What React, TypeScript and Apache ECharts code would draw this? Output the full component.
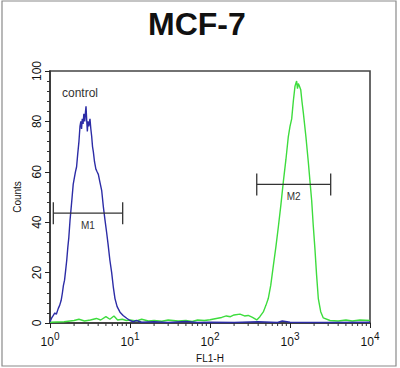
import React, { useEffect, useRef } from "react";
import * as echarts from "echarts";

const titleText = "MCF-7";
const xAxisName = "FL1-H";
const yAxisName = "Counts";
const controlLabel = "control";

// control histogram (blue): [FL1-H, counts]
const controlSeries: [number, number][] = [
  [1.0, 0.5], [1.05, 2], [1.1, 3], [1.15, 4], [1.2, 3.5], [1.27, 5.8], [1.32, 7], [1.38, 9],
  [1.43, 12], [1.47, 14.8], [1.52, 17], [1.57, 21], [1.62, 25], [1.67, 30], [1.72, 34],
  [1.78, 40.8], [1.83, 45], [1.89, 50], [1.95, 55], [2.0, 57], [2.08, 60], [2.15, 62],
  [2.22, 67], [2.3, 72], [2.37, 78], [2.43, 80], [2.48, 77], [2.53, 81], [2.59, 79],
  [2.65, 83], [2.72, 80], [2.78, 84], [2.82, 86], [2.87, 81], [2.93, 76], [2.98, 80],
  [3.05, 78], [3.16, 81], [3.24, 77], [3.32, 74], [3.4, 70], [3.48, 68], [3.6, 64],
  [3.75, 61], [3.88, 60], [4.02, 59], [4.2, 56], [4.43, 52.5], [4.65, 46], [4.87, 40.8],
  [5.1, 36], [5.31, 31.5], [5.6, 25], [5.9, 20], [6.2, 14], [6.49, 9.7], [6.9, 6.5],
  [7.5, 4.3], [8.2, 3], [9.1, 1.9], [10, 1], [11, 0.5], [12, 1], [14, 0.3], [20, 0.5],
  [30, 0.2], [50, 0.6], [70, 0.2], [100, 0.3], [200, 0.2], [400, 0.5], [700, 0.2],
  [800, 0.8], [1000, 0.3], [3000, 0.2], [10000, 0.3],
];

// MCF-7 histogram (green): [FL1-H, counts]
const sampleSeries: [number, number][] = [
  [1.0, 0.3], [1.5, 0.5], [2, 1], [2.3, 1.5], [2.7, 0.8], [3.2, 1.2], [3.8, 1.8], [4.3, 1.2],
  [5, 2.5], [5.6, 1.5], [6.3, 2.8], [7, 1.2], [8, 1.5], [9, 1], [10, 1.2], [12, 0.8],
  [14, 1.5], [17, 0.8], [20, 1], [25, 0.7], [30, 1.2], [40, 0.8], [50, 1], [60, 0.6],
  [70, 1.2], [85, 1], [100, 1.3], [120, 1.8], [140, 2.2], [160, 2.8], [180, 2.5], [200, 3.2],
  [237, 3.5], [270, 2.8], [300, 3], [340, 2.2], [384, 1.2], [420, 2.5], [464, 4.4], [500, 7],
  [535, 9.7], [575, 15], [618, 22.6], [665, 30], [714, 38], [770, 47], [825, 56], [890, 65],
  [953, 74], [1000, 78], [1050, 81], [1100, 88], [1155, 94], [1210, 96], [1240, 93],
  [1270, 95], [1310, 94], [1362, 92.6], [1410, 88], [1466, 83.6], [1580, 74], [1693, 64],
  [1780, 56], [1866, 48.6], [1950, 39], [2054, 29], [2150, 19], [2259, 9.7], [2420, 4.5],
  [2608, 2], [3162, 1], [4000, 0.8], [5000, 1.2], [6000, 0.8], [7500, 1.2], [10000, 1],
];

// gate markers: [from, to, level, name]
const gateMarkers: [number, number, number, string][] = [
  [1.1, 8.1, 43.6, "M1"],
  [384, 3226, 55, "M2"],
];

const xMin = 1;
const xMax = 10000;
const yMin = 0;
const yMax = 100;
const yInterval = 20;

const minorTickValues: number[] = [];
for (let d = 0; d < 4; d++) {
  for (let k = 2; k <= 9; k++) minorTickValues.push(k * Math.pow(10, d));
}

export default function App() {
  const ref = useRef<HTMLDivElement>(null);
  useEffect(() => {
    if (!ref.current) return;
    const chart = echarts.init(ref.current, null, { renderer: "svg" });
    const font = "'Liberation Sans', Arial, sans-serif";
    chart.setOption({
      animation: false,
      backgroundColor: "#ffffff",
      title: {
        text: titleText,
        left: 143,
        top: 3,
        textStyle: { fontSize: 32, fontWeight: "bold", color: "#111", fontFamily: font },
      },
      grid: {
        left: 50,
        top: 71,
        width: 320,
        height: 257,
        show: true,
        borderColor: "#444",
        borderWidth: 1.6,
        backgroundColor: "transparent",
      },
      xAxis: {
        type: "log",
        logBase: 10,
        min: xMin,
        max: xMax,
        name: xAxisName,
        nameLocation: "middle",
        nameGap: 30,
        nameTextStyle: { fontSize: 10, color: "#111", fontFamily: font },
        axisLine: { lineStyle: { color: "#333", width: 1.6 } },
        axisTick: { show: true, length: 5, lineStyle: { color: "#222" } },
        splitLine: { show: false },
        axisLabel: {
          margin: 8,
          color: "#111",
          fontFamily: font,
          formatter: (v: number) => `{b|10}{s|${Math.round(Math.log10(v))}}`,
          rich: {
            b: { fontSize: 12, color: "#111", fontFamily: font, verticalAlign: "bottom" },
            s: { fontSize: 10, color: "#111", fontFamily: font, verticalAlign: "bottom", padding: [0, 0, 7, 0] },
          },
        },
      },
      yAxis: {
        type: "value",
        min: yMin,
        max: yMax,
        interval: yInterval,
        name: yAxisName,
        nameLocation: "middle",
        nameGap: 28,
        nameRotate: 90,
        nameTextStyle: { fontSize: 10, color: "#111", fontFamily: font },
        axisLine: { show: true, lineStyle: { color: "#333", width: 1.6 } },
        axisTick: { show: true, length: 5, lineStyle: { color: "#222" } },
        minorTick: { show: true, splitNumber: 5, length: 3, lineStyle: { color: "#333" } },
        splitLine: { show: false },
        axisLabel: { rotate: 90, margin: 7, fontSize: 12, color: "#111", fontFamily: font },
      },
      graphic: [
        {
          type: "rect",
          shape: { x: 2, y: 1, width: 394, height: 365 },
          style: { fill: "none", stroke: "#8a8a8a", lineWidth: 1.2 },
          silent: true,
        },
        {
          type: "text",
          x: 62,
          y: 93,
          style: {
            text: controlLabel,
            fontSize: 12,
            fill: "#333",
            fontFamily: font,
            verticalAlign: "middle",
          },
        },
      ],
      series: [
        {
          type: "line",
          data: sampleSeries,
          showSymbol: false,
          lineStyle: { color: "#3ddc3d", width: 1.4 },
          z: 3,
        },
        {
          type: "line",
          data: controlSeries,
          showSymbol: false,
          lineStyle: { color: "#2c2ca6", width: 1.4 },
          z: 4,
        },
        {
          type: "custom",
          data: gateMarkers,
          encode: { x: [0, 1], y: 2 },
          clip: false,
          z: 5,
          renderItem: (_p: any, api: any) => {
            const a = api.coord([api.value(0), api.value(2)]);
            const b = api.coord([api.value(1), api.value(2)]);
            const cap = 11;
            const st = { stroke: "#333", lineWidth: 1.3 };
            return {
              type: "group",
              children: [
                { type: "line", shape: { x1: a[0], y1: a[1], x2: b[0], y2: b[1] }, style: st },
                { type: "line", shape: { x1: a[0], y1: a[1] - cap, x2: a[0], y2: a[1] + cap }, style: st },
                { type: "line", shape: { x1: b[0], y1: b[1] - cap, x2: b[0], y2: b[1] + cap }, style: st },
                {
                  type: "text",
                  x: (a[0] + b[0]) / 2,
                  y: a[1] + 12,
                  style: {
                    text: api.value(3),
                    fontSize: 10,
                    fill: "#333",
                    fontFamily: font,
                    align: "center",
                    verticalAlign: "middle",
                  },
                },
              ],
            };
          },
        },
        {
          type: "custom",
          data: minorTickValues.map((v) => [v, 0]),
          encode: { x: 0, y: 1 },
          clip: false,
          z: 2,
          renderItem: (_p: any, api: any) => {
            const p = api.coord([api.value(0), 0]);
            return {
              type: "line",
              shape: { x1: p[0], y1: p[1], x2: p[0], y2: p[1] + 3 },
              style: { stroke: "#333", lineWidth: 1 },
            };
          },
        },
      ],
    });
    return () => chart.dispose();
  }, []);
  return (
    <div
      ref={ref}
      style={{ position: "absolute", left: 0, top: 0, width: 400, height: 368 }}
    />
  );
}
